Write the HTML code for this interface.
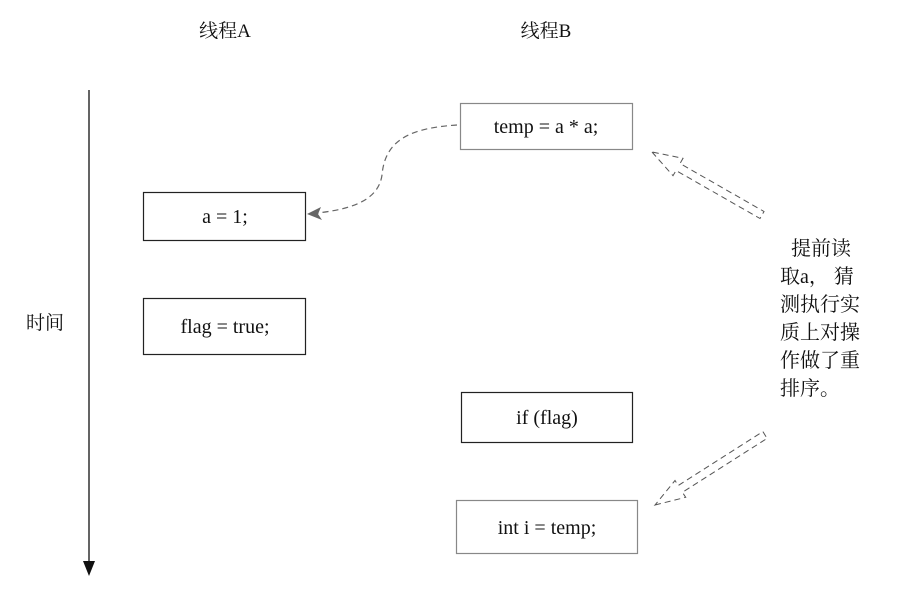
<!DOCTYPE html>
<html><head><meta charset="utf-8"><style>
body{margin:0;background:#fff;}
svg{display:block}
text{font-family:"Liberation Serif","Noto Serif CJK SC",serif;fill:#111}
</style></head><body>
<svg width="908" height="609" viewBox="0 0 908 609" xmlns="http://www.w3.org/2000/svg">
<text x="225" y="37" font-size="19" text-anchor="middle">线程A</text>
<text x="546" y="37" font-size="19" text-anchor="middle">线程B</text>
<text x="45" y="329" font-size="19" text-anchor="middle">时间</text>
<line x1="89" y1="90" x2="89" y2="562" stroke="#111" stroke-width="1.3"/>
<polygon points="83,561 95,561 89,576" fill="#111"/>
<rect x="460.5" y="103.5" width="172" height="46" fill="none" stroke="#888" stroke-width="1.2"/>
<text x="546" y="133" font-size="20" text-anchor="middle">temp = a * a;</text>
<rect x="143.5" y="192.5" width="162" height="48" fill="none" stroke="#222" stroke-width="1.2"/>
<text x="225" y="223" font-size="20" text-anchor="middle">a = 1;</text>
<rect x="143.5" y="298.5" width="162" height="56" fill="none" stroke="#222" stroke-width="1.2"/>
<text x="225" y="333" font-size="20" text-anchor="middle">flag = true;</text>
<rect x="461.5" y="392.5" width="171" height="50" fill="none" stroke="#222" stroke-width="1.2"/>
<text x="547" y="424" font-size="20" text-anchor="middle">if (flag)</text>
<rect x="456.5" y="500.5" width="181" height="53" fill="none" stroke="#888" stroke-width="1.2"/>
<text x="547" y="534" font-size="20" text-anchor="middle">int i = temp;</text>
<path d="M457,125 C410,128 385,140 382,175 C378,205 340,210 318,213" fill="none" stroke="#666" stroke-width="1.2" stroke-dasharray="6,4"/>
<polygon points="307,214 321,207 318,214 322,220" fill="#666"/>
<polygon points="652,152 673,175.7 676,170.5 760,218.5 764,211.5 680,163.5 683,158.3" fill="none" stroke="#555" stroke-width="1" stroke-dasharray="6,4"/>
<polygon points="655,505 685.7,497.3 682.4,492.3 767.1,438.4 762.9,431.6 678.2,485.5 675,480.5" fill="none" stroke="#555" stroke-width="1" stroke-dasharray="6,4"/>
<g font-size="20">
<text x="791" y="255">提前读</text>
<text x="780" y="283">取a， 猜</text>
<text x="780" y="311">测执行实</text>
<text x="780" y="339">质上对操</text>
<text x="780" y="367">作做了重</text>
<text x="780" y="395">排序。</text>
</g>
</svg>
</body></html>
